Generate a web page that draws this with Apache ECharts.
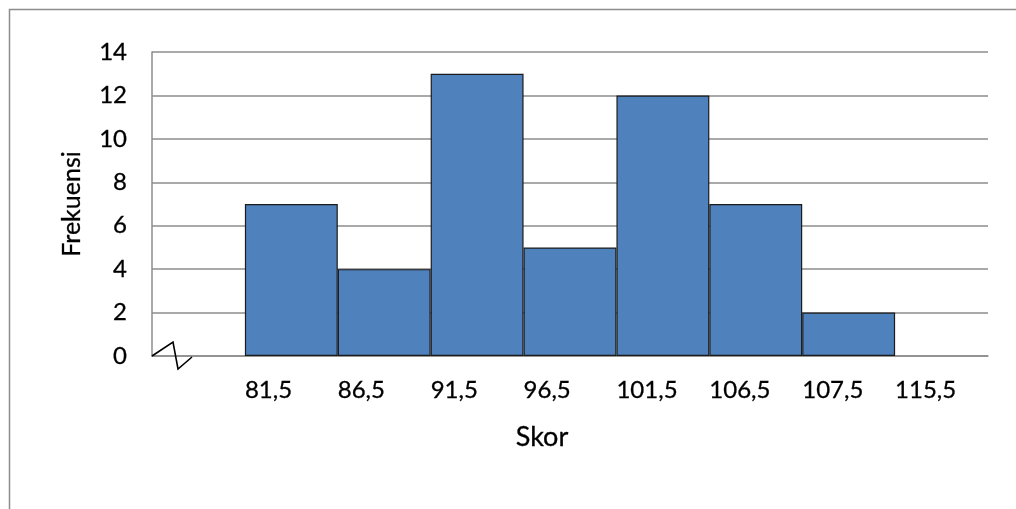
<!DOCTYPE html>
<html>
<head>
<meta charset="utf-8">
<script src="https://cdn.jsdelivr.net/npm/echarts@6/dist/echarts.min.js"></script>
<style>
  html, body { margin: 0; padding: 0; background: #ffffff; }
  #chart { width: 1016px; height: 509px; }
</style>
</head>
<body>
<div id="chart"></div>
<script>
// Class boundaries shown under the bars (left-aligned on each edge)
const classEdges = ['81,5', '86,5', '91,5', '96,5', '101,5', '106,5', '107,5', '115,5'];
// Frequency of each class interval
const frequencies = [7, 4, 13, 5, 12, 7, 2];
// Frequency axis
const yMin = 0;
const yMax = 14;
const yStep = 2;

// One empty slot before and after the histogram bars
const barSlots = [''].concat(frequencies.map((_, i) => classEdges[i] + '–' + classEdges[i + 1]), ['']);
const barValues = [null].concat(frequencies, [null]);
// Edge axis: ticks fall on slot boundaries
const edgeTicks = [''].concat(classEdges, ['']);

const FONT = 'Lato';
const GRID = '#8c8c8c';
const INK = '#000000';

const chart = echarts.init(document.getElementById('chart'), null, { renderer: 'canvas' });

chart.setOption({
  backgroundColor: '#ffffff',
  animation: false,
  grid: { left: 152, right: 28, top: 52, bottom: 153, containLabel: false },
  xAxis: [
    {
      type: 'category',
      data: barSlots,
      boundaryGap: true,
      axisLine: { show: true, lineStyle: { color: GRID, width: 1.5 } },
      axisTick: { show: false },
      axisLabel: { show: false },
      splitLine: { show: false }
    },
    {
      type: 'category',
      data: edgeTicks,
      boundaryGap: false,
      position: 'bottom',
      axisLine: { show: false },
      axisTick: { show: false },
      splitLine: { show: false },
      axisLabel: {
        show: true,
        interval: 0,
        align: 'left',
        margin: 22,
        color: INK,
        fontFamily: FONT,
        fontSize: 24,
        textBorderColor: INK,
        textBorderWidth: 0.3
      },
      name: 'Skor',
      nameLocation: 'middle',
      nameGap: 68,
      nameTextStyle: {
        color: INK,
        fontFamily: FONT,
        fontSize: 27,
        textBorderColor: INK,
        textBorderWidth: 0.3,
        padding: [0, 56, 0, 0]
      }
    }
  ],
  yAxis: {
    type: 'value',
    min: yMin,
    max: yMax,
    interval: yStep,
    axisLine: { show: true, lineStyle: { color: GRID, width: 1.5 } },
    axisTick: { show: false },
    splitLine: { show: true, lineStyle: { color: GRID, width: 1.5 } },
    axisLabel: {
      margin: 25,
      color: INK,
      fontFamily: FONT,
      fontSize: 24,
      textBorderColor: INK,
      textBorderWidth: 0.3
    },
    name: 'Frekuensi',
    nameLocation: 'middle',
    nameRotate: 90,
    nameGap: 68,
    nameTextStyle: {
      color: INK,
      fontFamily: FONT,
      fontSize: 25,
      textBorderColor: INK,
      textBorderWidth: 0.3
    }
  },
  series: [
    {
      type: 'bar',
      xAxisIndex: 0,
      data: barValues,
      barWidth: '100%',
      barCategoryGap: '0%',
      itemStyle: { color: '#4f81bd', borderColor: '#1b1b1b', borderWidth: 1.2 }
    }
  ]
});

// Axis-break zigzag at the origin and the outer chart frame
function drawDecor() {
  const ox = chart.convertToPixel({ xAxisIndex: 1 }, 0);
  const oy = chart.convertToPixel({ yAxisIndex: 0 }, 0);
  chart.setOption({
    graphic: [
      {
        type: 'polyline',
        shape: { points: [[ox, oy], [ox + 21, oy - 14], [ox + 26, oy + 13], [ox + 40, oy + 1]] },
        style: { stroke: '#000000', lineWidth: 1.6, fill: null },
        z: 100
      },
      {
        type: 'polyline',
        shape: { points: [[9.5, 509], [9.5, 9.5], [1016, 9.5]] },
        style: { stroke: '#8c8c8c', lineWidth: 1.5, fill: null },
        z: 100
      }
    ]
  });
}
drawDecor();
</script>
</body>
</html>
